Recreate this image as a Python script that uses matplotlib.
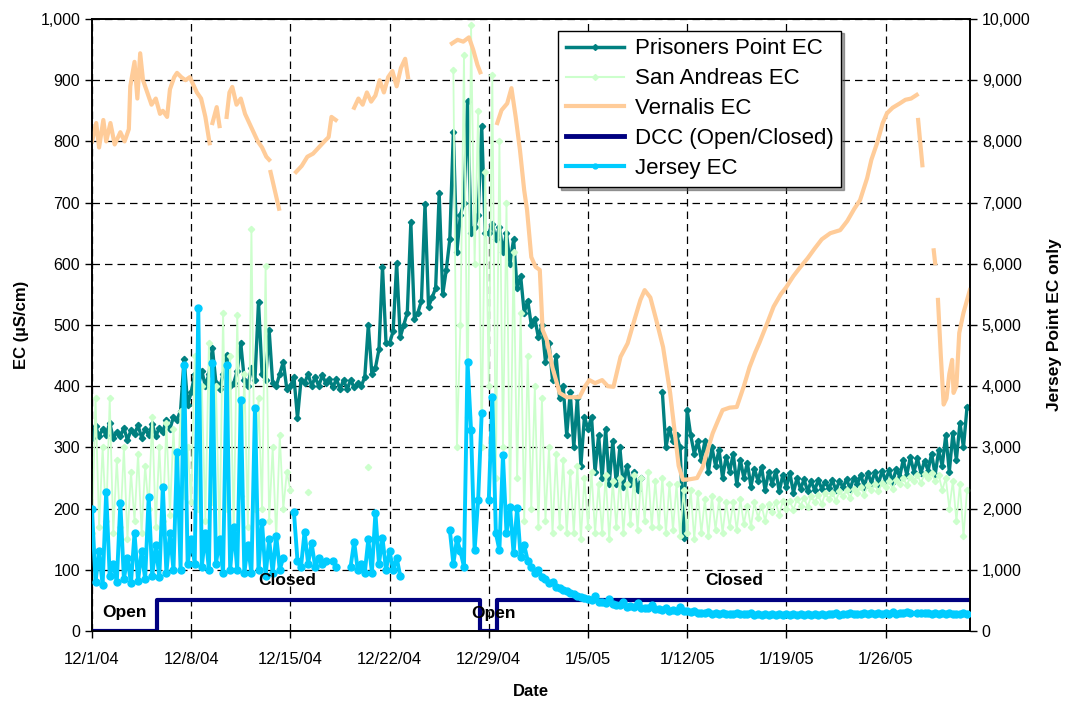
import numpy as np
import matplotlib
matplotlib.use("Agg")
import matplotlib.pyplot as plt
import matplotlib.dates as mdates
from matplotlib.ticker import FuncFormatter, MultipleLocator
from matplotlib.lines import Line2D

nan = np.nan
START = np.datetime64("2004-12-01T00:00")

# Prisoners Point EC (uS/cm), every 6 h from 12/1/04 00:00
pp_vals = [
    315, 335, 318, 330,  320, 340, 315, 325,  318, 332, 312, 328,  322, 336, 316, 330,
    320, 338, 318, 332,  325, 345, 330, 350,  345, 360, 445, 370,  390, 420, 400, 425,
    400, 420, 462, 405,  395, 420, 451, 400,  405, 425, 470, 410,  400, 430, 410, 538,
    420, 410, 492, 405,  400, 420, 440, 395,  400, 415, 348, 410,  405, 420, 400, 415,
    400, 418, 405, 412,  398, 412, 395, 410,  395, 410, 398, 405,  400, 415, 500, 420,
    430, 460, 595, 470,  470, 490, 601, 480,  500, 520, 668, 510,  520, 540, 697, 530,
    545, 560, 715, 550,  590, 640, 815, 620,  680, 700, 866, 650,  660, 680, 825, 650,
    650, 665, 640, 660,  620, 650, 600, 640,  560, 580, 520, 540,  500, 510, 480, 500,
    440, 470, 410, 450,  380, 400, 320, 390,  300, 380, 270, 350,  330, 350, 260, 320,
    250, 330, 240, 310,  240, 300, 236, 270,  240, 260, 230, 250,  nan, nan, nan, nan,
    nan, 390, 300, 330,  310, 320, 300, 152,  361, 320, 290, 310,  280, 310, 260, 300,
    270, 296, 250, 285,  260, 290, 240, 280,  250, 275, 236, 265,  245, 268, 230, 260,
    240, 262, 228, 255,  235, 258, 226, 250,  232, 248, 228, 245,  230, 247, 232, 244,
    233, 246, 230, 245,  235, 248, 232, 250,  240, 255, 236, 258,  242, 260, 240, 262,
    245, 263, 243, 265,  252, 280, 255, 284,  260, 282, 258, 278,  262, 290, 255, 295,
    270, 320, 260, 323,  280, 340, 300, 366,
]

# San Andreas EC (uS/cm), every 6 h
sa_vals = [
    160, 380, 170, 300,  180, 380, 160, 280,  170, 300, 150, 260,  180, 290, 160, 270,
    200, 350, 170, 300,  180, 340, 190, 330,  200, 360, 220, 300,  210, 450, 200, 400,
    180, 470, 210, 400,  150, 520, 200, 450,  160, 516, 220, 420,  170, 657, 200, 380,
    200, 597, 180, 300,  150, 320, 200, 260,  230, nan, nan, nan,  nan, 227, nan, nan,
    nan, nan, nan, nan,  nan, nan, nan, nan,  nan, nan, nan, nan,  nan, nan, 268, nan,
    nan, nan, nan, nan,  nan, nan, nan, nan,  nan, nan, nan, nan,  nan, nan, nan, nan,
    nan, nan, nan, nan,  nan, nan, 917, 300,  500, 941, 350, 990,  600, 850, 300, 750,
    400, 908, 250, 800,  300, 699, 200, 620,  250, 520, 180, 450,  200, 400, 170, 380,
    180, 300, 160, 290,  170, 280, 160, 260,  160, 270, 150, 250,  170, 260, 160, 240,
    160, 255, 150, 245,  170, 250, 160, 240,  175, 255, 165, 250,  180, 260, 170, 245,
    170, 250, 160, 240,  165, 240, 155, 230,  160, 230, 150, 225,  160, 215, 155, 220,
    165, 215, 160, 210,  170, 210, 165, 215,  175, 205, 170, 210,  185, 205, 180, 208,
    195, 210, 190, 212,  200, 212, 198, 215,  205, 218, 203, 220,  210, 222, 208, 225,
    215, 226, 213, 228,  220, 230, 218, 232,  225, 236, 223, 238,  230, 240, 228, 242,
    235, 245, 232, 247,  240, 250, 238, 252,  245, 255, 242, 256,  250, 258, 245, 255,
    230, 250, 200, 245,  180, 240, 155, 230,
]

# Jersey Point EC (uS/cm, right axis), every 6 h
je_vals = [
    2000, 800, 1300, 750,  2270, 900, 1100, 800,  2090, 850, 1200, 780,  1600, 820, 1300, 850,
    2190, 900, 1400, 880,  2350, 950, 1600, 1000,  2930, 1000, 4350, 1100,  1500, 1100, 5270, 1050,
    1600, 1000, 4380, 1100,  1500, 950, 4350, 1000,  1700, 1000, 3770, 950,  1400, 950, 3640, 1000,
    1780, 900, 1500, 950,  1560, 1000, 1200, nan,  nan, 1940, 1150, 1050,  1620, 1100, 1430, 1050,
    1200, 1100, 1150, nan,  1150, 1050, nan, nan,  nan, 1050, 1460, 1000,  1100, 950, 1500, 950,
    1930, 1100, 1520, 1000,  1300, 1000, 1200, 900,  nan, nan, nan, nan,  nan, nan, nan, nan,
    nan, nan, nan, nan,  nan, 1650, 1100, 1500,  1300, 1050, 4400, 3280,  1320, 2140, 3560, nan,
    2140, 3830, 1600, 1320,  2870, 1600, 2030, 1270,  2010, 1210, 1400, 1150,  1050, 950, 1000, 880,
    850, 780, 800, 720,  700, 670, 650, 620,  600, 580, 560, 540,  520, 500, 580, 480,
    470, 450, 520, 440,  430, 420, 480, 400,  410, 390, 450, 380,  380, 370, 420, 360,
    360, 340, 380, 330,  340, 330, 400, 320,  320, 310, 330, 300,  300, 290, 310, 280,
    290, 280, 300, 270,  285, 275, 295, 270,  280, 270, 290, 265,  275, 268, 285, 262,
    272, 265, 282, 262,  270, 265, 280, 262,  272, 266, 282, 264,  275, 268, 285, 266,
    278, 270, 288, 268,  280, 272, 290, 270,  285, 275, 295, 272,  290, 280, 300, 278,
    295, 285, 305, 282,  300, 290, 310, 288,  nan, 295, 300, 290,  290, 285, 295, 285,
    290, 282, 292, 280,  285, 280, 290, 282,
]

# Vernalis EC: (days after 12/1/04, value); nan marks a data gap
ve_days = [
    0.0, 0.3, 0.5, 0.8, 1.0, 1.3, 1.6, 2.0, 2.3, 2.6, 2.7, 3.0, 3.2, 3.4, 3.6, 3.9, 4.2, 4.5, 4.8,
    5.0, 5.3, 5.5, 5.8, 6.0, 6.3, 6.6, 6.9, 7.1, 7.4, 7.7, 8.0, 8.3, 8.4, 8.5, 8.8, 9.0, 9.2,
    9.5, 9.7, 9.9, 10.2, 10.5, 10.8, 11.1, 11.4, 11.7, 12.0, 12.3, 12.5, 12.55, 12.6, 12.9, 13.2,
    13.3, 13.5, 13.6, 14.4, 14.8, 15.2, 15.6, 16.0, 16.4, 16.7, 16.9, 17.2, 17.3, 18.5, 18.8, 19.1,
    19.4, 19.7, 20.0, 20.3, 20.6, 20.9, 21.2, 21.5, 21.8, 22.1, 22.3, 22.4, 25.4, 25.8, 26.2, 26.6,
    26.9, 27.2, 27.4, 27.5, 27.6, 27.7, 28.6, 28.9, 29.3, 29.6, 29.9, 30.2, 30.5, 30.7, 31.0, 31.3,
    31.6, 31.8, 32.1, 32.5, 33.0, 33.5, 34.0, 34.4, 34.8, 35.1, 35.5, 36.0, 36.4, 36.8, 37.3, 37.8,
    38.3, 38.7, 39.0, 39.4, 39.8, 40.3, 40.8, 41.1, 41.4, 41.7, 42.2, 42.7, 43.1, 43.5, 43.8, 44.2,
    44.5, 45.0, 45.5, 46.0, 46.4, 46.8, 47.1, 47.6, 48.1, 48.6, 49.0, 49.5, 50.0, 50.5, 51.0, 51.5,
    52.1, 52.8, 53.3, 53.8, 54.2, 54.7, 55.0, 55.4, 55.8, 56.1, 56.5, 57.0, 57.4, 57.8, 58.2, 58.25,
    58.3, 58.6, 59.0, 59.4, 59.5, 59.6, 59.7, 59.9, 60.1, 60.3, 60.5, 60.7, 60.8, 61.0, 61.2, 61.5,
    61.95,
]
ve_vals = [
    800, 830, 790, 835, 800, 830, 795, 815, 800, 820, 890, 930, 870, 944, 900, 880, 860, 870, 845,
    850, 840, 885, 905, 912, 905, 900, 905, 895, 880, 870, 840, 797, nan, 830, 856, 825, nan,
    840, 880, 889, 860, 870, 845, 830, 815, 800, 790, 775, 770, nan, 750, 720, 690,
    nan, 683, nan, 750, 760, 775, 780, 790, 800, 807, 840, 835, nan, 855, 870, 860,
    880, 865, 875, 900, 880, 905, 915, 890, 920, 935, 905, nan, 960, 966, 963, 970,
    950, 925, 913, nan, 913, nan, 830, 851, 862, 887, 840, 786, 720, 688, 611, 595,
    590, 492, 475, 430, 389, 382, 382, 382, 400, 410, 405, 410, 400, 399, 448, 470,
    510, 541, 557, 545, 510, 464, 389, 330, 270, 247, 248, 250, 268, 300, 323, 345,
    361, 365, 366, 400, 431, 455, 471, 500, 530, 550, 562, 580, 595, 609, 625, 640,
    650, 655, 670, 690, 704, 740, 770, 797, 830, 846, 855, 862, 868, 870, 876, nan,
    835, 761, nan, 622, 601, nan, 541, 450, 370, 380, 420, 443, 389, 400, 487, 520,
    557,
]

# Delta Cross Channel gate: 0 = Open, 50 = Closed (step changes, days after 12/1/04)
dcc_days = [0.0, 4.6, 27.4, 28.6, 61.95]
dcc_vals = [0, 50, 0, 50, 50]

xtick_days = [0, 7, 14, 21, 28, 35, 42, 49, 56]
xtick_labels = ["12/1/04", "12/8/04", "12/15/04", "12/22/04", "12/29/04",
                "1/5/05", "1/12/05", "1/19/05", "1/26/05"]


def to_dates(days):
    return START + (np.asarray(days) * 24 * 60).astype("timedelta64[m]")


def dnum(day):
    return mdates.date2num(to_dates([day])[0].astype(object))


six_h = np.timedelta64(6, "h")
pp_t = START + np.arange(len(pp_vals)) * six_h
sa_t = START + np.arange(len(sa_vals)) * six_h
je_t = START + np.arange(len(je_vals)) * six_h

C_PP = "#008080"
C_SA = "#CCFFCC"
C_VE = "#FFCC99"
C_DCC = "#000080"
C_JE = "#00CCFF"

plt.rcParams["font.family"] = ["Liberation Sans", "DejaVu Sans"]

fig = plt.figure(figsize=(10.7, 7.02), dpi=100)
ax = fig.add_axes([92 / 1070, 1 - 631 / 702, 878 / 1070, 612 / 702])

ax.plot(pp_t, pp_vals, color=C_PP, lw=2.4, marker="D", ms=3.2, zorder=3,
        label="Prisoners Point EC")
ax.plot(sa_t, sa_vals, color=C_SA, lw=1.3, marker="D", ms=3.2, zorder=4,
        label="San Andreas EC")
ax.plot(to_dates(ve_days), ve_vals, color=C_VE, lw=3.0, zorder=5, label="Vernalis EC")
ax.step(to_dates(dcc_days), dcc_vals, where="post", color=C_DCC, lw=3.0, zorder=6,
        label="DCC (Open/Closed)")

ax2 = ax.twinx()
ax2.plot(je_t, je_vals, color=C_JE, lw=2.8, marker="o", ms=5, zorder=3, label="Jersey EC")

ax.set_xlim(dnum(0), dnum(61.96))
ax.set_ylim(0, 1000)
ax2.set_ylim(0, 10000)

ax.set_xticks([dnum(d) for d in xtick_days])
ax.set_xticklabels(xtick_labels)
ax.yaxis.set_major_locator(MultipleLocator(100))
ax2.yaxis.set_major_locator(MultipleLocator(1000))
fmt = FuncFormatter(lambda v, p: f"{int(round(v)):,}")
ax.yaxis.set_major_formatter(fmt)
ax2.yaxis.set_major_formatter(fmt)

for a in (ax, ax2):
    a.tick_params(direction="out", length=5, width=1, labelsize=11.5, colors="black")
    for s in a.spines.values():
        s.set_color("black")
        s.set_linewidth(1.2)
ax.tick_params(axis="x", pad=10)
for lab in ax.get_xticklabels():
    lab.set_family(["Liberation Sans Narrow", "Liberation Sans"])
    lab.set_fontsize(12)

ax.grid(True, color="black", linestyle=(0, (6, 4)), linewidth=0.9)
ax.set_axisbelow(True)

ax.set_ylabel("EC (µS/cm)", fontsize=12, fontweight="bold", labelpad=8)
ax2.set_ylabel("Jersey Point EC only", fontsize=12.5, fontweight="bold", labelpad=12)
ax.set_xlabel("Date", fontsize=12, fontweight="bold", labelpad=12)

# annotations (placed on the top axes so they stay above the data)
txt = dict(fontsize=12.5, fontweight="bold", ha="center", va="center", zorder=10)
ax2.text(dnum(2.3), 310, "Open", **txt)
ax2.text(dnum(13.8), 830, "Closed", **txt)
ax2.text(dnum(28.3), 290, "Open", **txt)
ax2.text(dnum(45.3), 830, "Closed", **txt)

handles = [
    Line2D([], [], color=C_PP, lw=2.5, marker="D", ms=3),
    Line2D([], [], color=C_SA, lw=1.5, marker="D", ms=3),
    Line2D([], [], color=C_VE, lw=3),
    Line2D([], [], color=C_DCC, lw=3.5),
    Line2D([], [], color=C_JE, lw=3, marker="o", ms=3.5),
]
labels = ["Prisoners Point EC", "San Andreas EC", "Vernalis EC", "DCC (Open/Closed)", "Jersey EC"]
leg = ax2.legend(handles, labels, loc="upper left", bbox_to_anchor=(0.531, 0.981),
                 borderaxespad=0, fontsize=16, frameon=True, fancybox=False, shadow=True,
                 handlelength=2.6, handletextpad=0.5, labelspacing=0.4, borderpad=0.35)
leg.get_frame().set_edgecolor("black")
leg.get_frame().set_linewidth(1.0)
leg.set_zorder(20)

fig.savefig("out.png", dpi=100)
